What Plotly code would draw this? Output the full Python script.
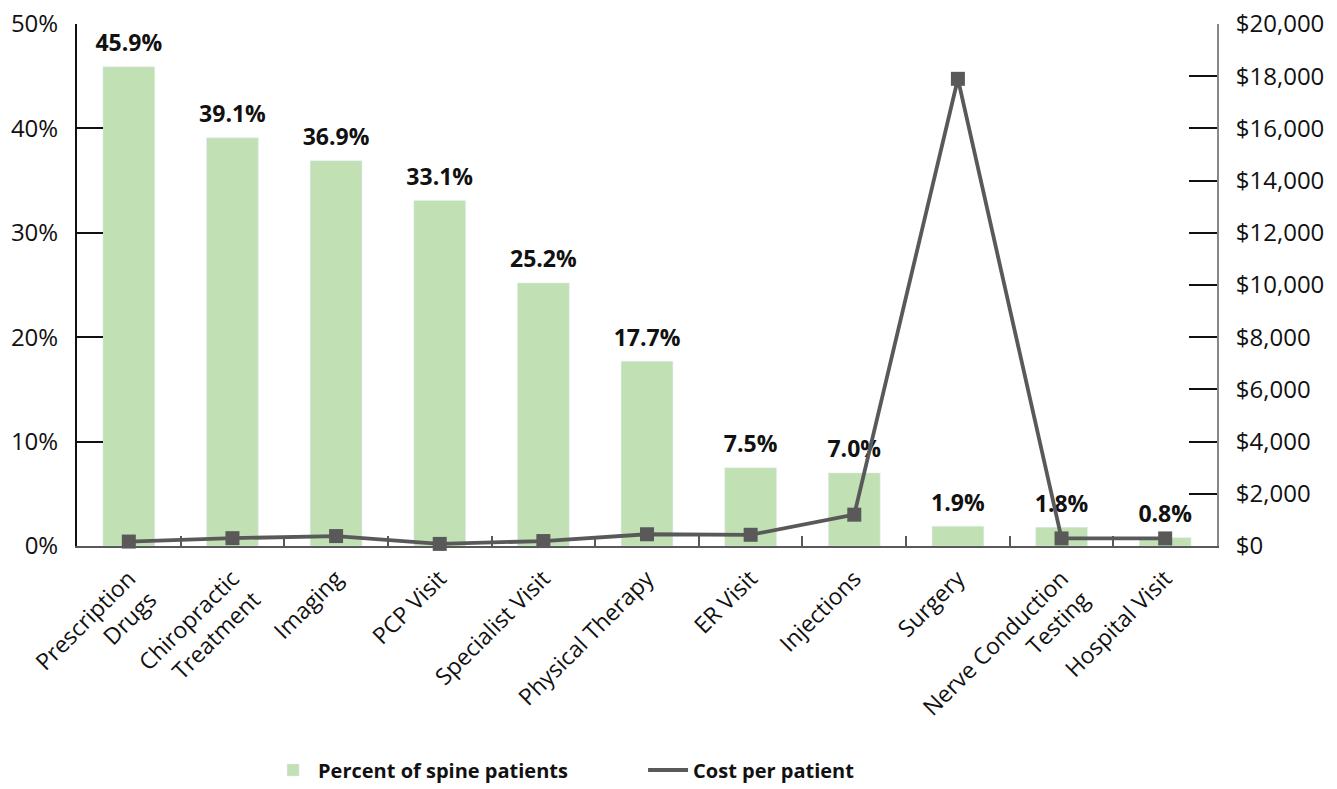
import plotly.graph_objects as go

categories = ["Prescription<br>Drugs", "Chiropractic<br>Treatment", "Imaging", "PCP Visit",
              "Specialist Visit", "Physical Therapy", "ER Visit", "Injections", "Surgery",
              "Nerve Conduction<br>Testing", "Hospital Visit"]
percent_patients = [45.9, 39.1, 36.9, 33.1, 25.2, 17.7, 7.5, 7.0, 1.9, 1.8, 0.8]
cost_per_patient = [170, 300, 380, 80, 190, 450, 430, 1200, 17900, 290, 290]
pct_ticks = [0, 10, 20, 30, 40, 50]
cost_ticks = list(range(0, 20001, 2000))

FONT = "Open Sans"
BAR_COLOR = "#c1e0b4"
LINE_COLOR = "#595959"
TEXT_COLOR = "#111111"

fig = go.Figure()
fig.add_trace(go.Bar(
    x=categories, y=percent_patients, name="Percent of spine patients",
    marker_color=BAR_COLOR, yaxis="y", showlegend=True, hoverinfo="skip",
))
fig.add_trace(go.Scatter(
    x=categories, y=percent_patients, mode="markers+text",
    text=[f"{v:.1f}%" for v in percent_patients], textposition="top center",
    textfont=dict(family=FONT, size=23, color=TEXT_COLOR, weight="bold"),
    marker=dict(size=14, opacity=0), yaxis="y", showlegend=False, cliponaxis=False,
    hoverinfo="skip",
))
fig.add_trace(go.Scatter(
    x=categories, y=cost_per_patient, mode="lines+markers", name="Cost per patient",
    line=dict(color=LINE_COLOR, width=3.8), marker=dict(symbol="square", size=14, color=LINE_COLOR),
    yaxis="y2", showlegend=False, cliponaxis=False,
))
fig.add_trace(go.Scatter(
    x=[categories[0]], y=[None], mode="lines", name="Cost per patient",
    line=dict(color=LINE_COLOR, width=4), yaxis="y2", showlegend=True,
))

fig.update_layout(
    width=1337, height=789,
    margin=dict(l=77, r=120, t=24, b=243, autoexpand=False),
    plot_bgcolor="white", paper_bgcolor="white",
    bargap=0.5,
    font=dict(family=FONT, size=21, color=TEXT_COLOR),
    xaxis=dict(
        range=[-0.5, len(categories) - 0.5],
        tickangle=-45, showline=True, linecolor=LINE_COLOR, linewidth=2,
        ticks="inside", tickson="boundaries", ticklen=10, tickcolor=LINE_COLOR, tickwidth=2,
        tickfont=dict(family=FONT, size=23, color=TEXT_COLOR), showgrid=False, automargin=False,
        ticklabelstandoff=8,
    ),
    yaxis=dict(
        range=[0, 50], tickvals=pct_ticks, ticktext=[f"{v}%" for v in pct_ticks],
        showline=True, linecolor=TEXT_COLOR, linewidth=2, ticks="inside", ticklen=26,
        tickcolor=TEXT_COLOR, tickwidth=2, showgrid=False, zeroline=False, automargin=False,
        tickfont=dict(family=FONT, size=24, color=TEXT_COLOR), ticklabelstandoff=12,
    ),
    yaxis2=dict(
        range=[0, 20000], overlaying="y", side="right",
        tickvals=cost_ticks, ticktext=[f"${v:,}" for v in cost_ticks],
        showline=True, linecolor="#888888", linewidth=2, ticks="inside", ticklen=28,
        tickcolor=TEXT_COLOR, tickwidth=2, showgrid=False, zeroline=False, automargin=False,
        tickfont=dict(family=FONT, size=24, color=TEXT_COLOR), ticklabelstandoff=12,
    ),
    legend=dict(
        orientation="h", x=0.1676, xanchor="left", y=-0.4664, yanchor="bottom",
        font=dict(family=FONT, size=20, color=TEXT_COLOR, weight="bold"),
        entrywidth=320, itemwidth=40,
    ),
)

fig.write_html("out.html", config={"displayModeBar": False},
               post_script="document.body.style.margin='0';document.body.style.overflow='hidden';")
